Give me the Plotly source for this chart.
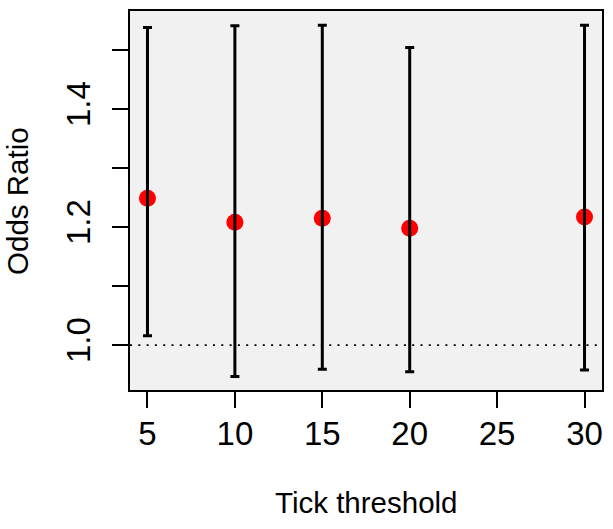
import plotly.graph_objects as go

thresholds = [5, 10, 15, 20, 30]
odds_ratio = [1.249, 1.208, 1.215, 1.198, 1.217]
ci_lower = [1.016, 0.947, 0.959, 0.955, 0.958]
ci_upper = [1.538, 1.541, 1.542, 1.504, 1.542]

x_ticks = [5, 10, 15, 20, 25, 30]
y_ticks = [1.0, 1.1, 1.2, 1.3, 1.4, 1.5]
y_tick_text = ["1.0", "", "1.2", "", "1.4", ""]

err_plus = [u - o for u, o in zip(ci_upper, odds_ratio)]
err_minus = [o - l for o, l in zip(odds_ratio, ci_lower)]

FONT = "Liberation Sans, Arial, Helvetica, sans-serif"

fig = go.Figure()
fig.add_trace(go.Scatter(
    x=thresholds, y=odds_ratio, mode="markers",
    marker=dict(color="#ff0000", size=17, line=dict(width=0)),
    showlegend=False, hoverinfo="skip"))
fig.add_trace(go.Scatter(
    x=thresholds, y=odds_ratio, mode="markers",
    marker=dict(color="rgba(0,0,0,0)", size=1),
    error_y=dict(type="data", symmetric=False, array=err_plus, arrayminus=err_minus,
                 color="black", thickness=3, width=4.5),
    showlegend=False))

fig.add_shape(type="line", xref="paper", x0=0, x1=1, yref="y", y0=1.0, y1=1.0,
              line=dict(color="black", width=1.7, dash="2px,6.3px"))

fig.update_layout(
    width=613, height=529,
    margin=dict(l=130, r=9, t=11, b=139),
    paper_bgcolor="white", plot_bgcolor="#f1f1f1",
    font=dict(family=FONT, color="black"),
    xaxis=dict(range=[4, 31], tickvals=x_ticks, ticktext=[str(v) for v in x_ticks],
               showgrid=False, zeroline=False, showline=True, mirror=True,
               linecolor="black", linewidth=1.5, ticks="outside", ticklen=16,
               tickwidth=1.5, tickcolor="black", tickfont=dict(size=33, family=FONT),
               ticklabelstandoff=-2),
    yaxis=dict(range=[0.924, 1.566], tickvals=y_ticks, ticktext=y_tick_text,
               showgrid=False, zeroline=False, showline=True, mirror=True,
               linecolor="black", linewidth=1.5, ticks="outside", ticklen=16,
               tickwidth=1.5, tickcolor="black", tickangle=-90,
               tickfont=dict(size=33, family=FONT), ticklabelstandoff=9),
    annotations=[
        dict(text="Tick threshold", xref="paper", yref="paper", x=0.5, y=(390 - 502) / 379,
             xanchor="center", yanchor="middle", showarrow=False,
             font=dict(size=29.5, family=FONT)),
        dict(text="Odds Ratio", xref="paper", yref="paper", x=(17 - 130) / 474, y=0.5,
             xanchor="center", yanchor="middle", showarrow=False, textangle=-90,
             font=dict(size=29.5, family=FONT)),
    ],
)

fig.write_html("out.html", config={"displayModeBar": False},
               post_script="document.body.style.margin='0';document.body.style.overflow='hidden';")
